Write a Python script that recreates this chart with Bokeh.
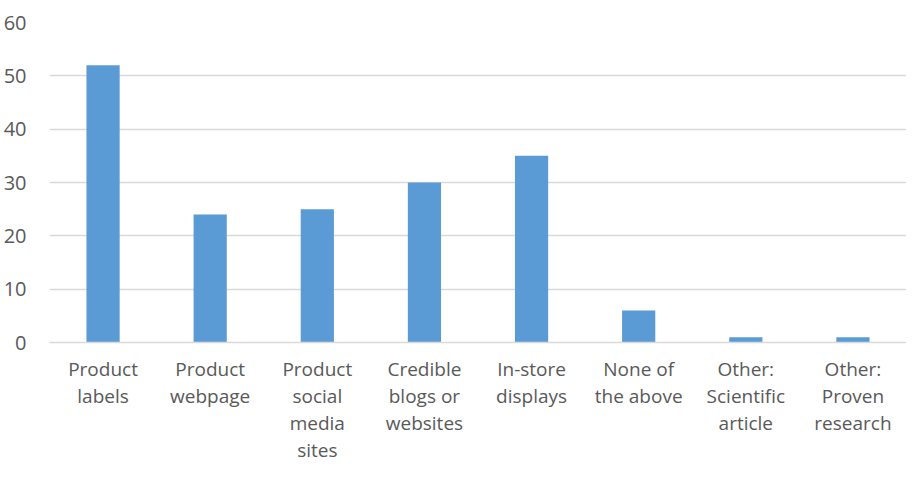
from bokeh.plotting import figure
from bokeh.models import Range1d, FactorRange, ColumnDataSource, SingleIntervalTicker
from bokeh.embed import file_html
from bokeh.resources import INLINE

categories = [
    "Product\nlabels",
    "Product\nwebpage",
    "Product\nsocial\nmedia\nsites",
    "Credible\nblogs or\nwebsites",
    "In-store\ndisplays",
    "None of\nthe above",
    "Other:\nScientific\narticle",
    "Other:\nProven\nresearch",
]
values = [52, 24, 25, 30, 35, 6, 1, 1]

src = ColumnDataSource(data=dict(cat=categories, val=values))

p = figure(
    width=906, height=466,
    x_range=FactorRange(factors=categories, range_padding=0),
    y_range=Range1d(0, 60),
    output_backend="svg", toolbar_location=None,
    min_border_left=49, min_border_right=0, min_border_top=22, min_border_bottom=60,
)
p.outline_line_color = None
p.vbar(x="cat", top="val", width=0.31, source=src, fill_color="#5b9bd5", line_color=None)

gray = "#595959"
p.yaxis.ticker = SingleIntervalTicker(interval=10)
p.yaxis.axis_line_color = None
p.yaxis.major_tick_line_color = None
p.yaxis.minor_tick_line_color = None
p.yaxis.major_label_text_font = "Open Sans"
p.yaxis.major_label_text_font_size = "20px"
p.yaxis.major_label_text_color = gray
p.yaxis.major_label_standoff = 17

p.xaxis.axis_line_color = "#d9d9d9"
p.xaxis.axis_line_width = 1.5
p.xaxis.major_tick_line_color = None
p.xaxis.minor_tick_line_color = None
p.xaxis.major_tick_out = 0
p.xaxis.major_tick_in = 0
p.xaxis.major_label_text_font = "Open Sans"
p.xaxis.major_label_text_font_size = "19px"
p.xaxis.major_label_text_color = gray
p.xaxis.major_label_text_line_height = 1.05
p.xaxis.major_label_standoff = 13

p.xgrid.grid_line_color = None
p.ygrid.grid_line_color = "#d9d9d9"
p.ygrid.grid_line_width = 1.5

open("out.html", "w").write(file_html(p, INLINE))
